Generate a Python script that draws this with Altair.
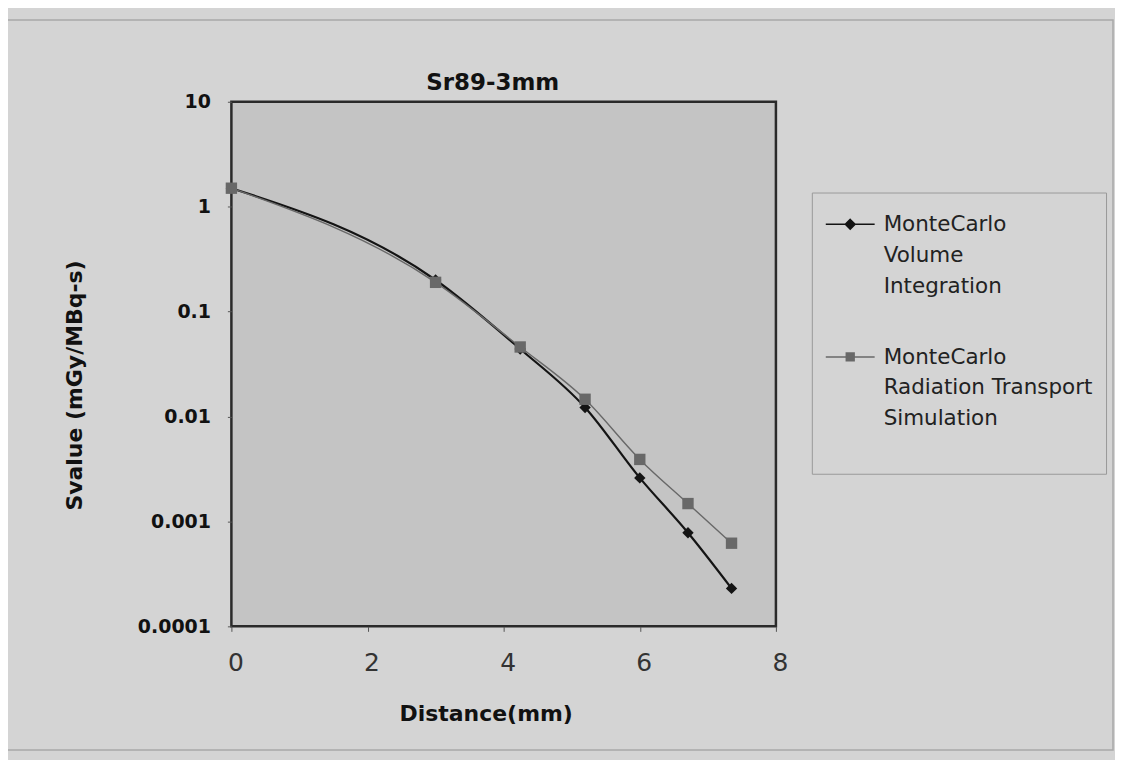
import altair as alt
import pandas as pd

# ---- data ----
distance = [0, 3, 4.243, 5.196, 6, 6.708, 7.348]
vol_integration = [1.5, 0.2, 0.044, 0.0122, 0.0026, 0.00078, 0.00023]
rad_transport = [1.5, 0.19, 0.046, 0.0146, 0.0039, 0.00148, 0.00062]
series = ["MonteCarlo Volume Integration", "MonteCarlo Radiation Transport Simulation"]
x_ticks = [0, 2, 4, 6, 8]
y_ticks = [0.0001, 0.001, 0.01, 0.1, 1, 10]

df = pd.DataFrame({
    "Distance": distance + distance,
    "Svalue": vol_integration + rad_transport,
    "Series": [series[0]] * len(distance) + [series[1]] * len(distance),
})

colors = ["#141414", "#686868"]
BG = "#d4d4d4"
PLOT_BG = "#c4c4c4"
FONT = "DejaVu Sans"

color_scale = alt.Scale(domain=series, range=colors)
x_enc = alt.X(
    "Distance:Q",
    scale=alt.Scale(domain=[0, 8], nice=False, zero=False),
    axis=alt.Axis(
        values=x_ticks, title="Distance(mm)", grid=False, domain=False, labelFlush=False,
        labelFont=FONT, labelFontSize=25, labelColor="#333333", labelOffset=4,
        labelPadding=19, tickSize=5, tickColor="#555555",
        titleFont=FONT, titleFontSize=22, titleFontWeight="bold", titleColor="#111111",
        titleX=255, titleY=87, titleAlign="center", titleBaseline="middle",
    ),
)
y_enc = alt.Y(
    "Svalue:Q",
    scale=alt.Scale(type="log", domain=[0.0001, 10], nice=False),
    axis=alt.Axis(
        values=y_ticks, format="~g", title="Svalue (mGy/MBq-s)", grid=False, domain=False,
        labelFlush=False,
        labelFont=FONT, labelFontSize=19, labelFontWeight="bold", labelColor="#111111",
        labelPadding=17, tickSize=4, tickColor="#555555",
        titleFont=FONT, titleFontSize=22, titleFontWeight="bold", titleColor="#111111",
        titleX=-157, titleY=284, titleAngle=270, titleAlign="center", titleBaseline="middle",
    ),
)

base = alt.Chart(df)
filt_a = alt.datum.Series == series[0]
filt_b = alt.datum.Series == series[1]
col = alt.Color("Series:N", scale=color_scale, legend=None)

line_a = base.transform_filter(filt_a).mark_line(interpolate="monotone", strokeWidth=2.2).encode(
    x=x_enc, y=y_enc, color=col)
pts_a = base.transform_filter(filt_a).mark_point(shape="diamond", filled=True, size=130, opacity=1).encode(
    x=x_enc, y=y_enc, color=col)
line_b = base.transform_filter(filt_b).mark_line(interpolate="monotone", strokeWidth=1.4).encode(
    x=x_enc, y=y_enc, color=col)
pts_b = base.transform_filter(filt_b).mark_point(shape="square", filled=True, size=130, opacity=1).encode(
    x=x_enc, y=y_enc, color=col)

# legend glyphs: line with the marker in its middle
path_a = "M-1,-0.27H1M0,-0.47L0.2,-0.27L0,-0.07L-0.2,-0.27Z"
path_b = "M-1,-0.27H1M-0.16,-0.43H0.16V-0.11H-0.16Z"
label_expr = ("datum.label == '" + series[0] + "' ? ['MonteCarlo', 'Volume', 'Integration']"
              " : ['MonteCarlo', 'Radiation Transport', 'Simulation', '']")
leg = alt.Legend(
    title=None, orient="none", legendX=582, legendY=91, direction="vertical",
    labelExpr=label_expr, labelFont=FONT, labelFontSize=21.5, labelColor="#222222",
    labelLimit=400, labelOffset=8, labelBaseline="alphabetic",
    symbolSize=2401, symbolStrokeWidth=1.5, symbolOpacity=1,
    padding=13, rowPadding=41, strokeColor="#9a9a9a", fillColor=BG, cornerRadius=0,
)
# invisible (zero-size) carrier of the legend, drawn beneath everything
legend_layer = base.mark_point(filled=True, size=0).encode(
    x=x_enc, y=y_enc,
    fill=alt.Fill("Series:N", scale=alt.Scale(domain=series, range=colors), legend=leg),
    stroke=alt.Stroke("Series:N", scale=alt.Scale(domain=series, range=colors), legend=leg),
    shape=alt.Shape("Series:N", scale=alt.Scale(domain=series, range=[path_a, path_b]), legend=leg),
)

frame = alt.Chart(alt.Data(values=[{"k": 1}])).mark_rect(
    fill=None, stroke="#a8a8a8", strokeWidth=1.5).encode(
    x=alt.value(-225), x2=alt.value(884), y=alt.value(-82), y2=alt.value(650))

chart = alt.layer(frame, legend_layer, line_a, pts_a, line_b, pts_b).properties(
    width=546, height=526,
    title=alt.TitleParams("Sr89-3mm", font=FONT, fontSize=23, fontWeight="bold", color="#111111",
                          anchor="middle", dx=-11, dy=105, offset=11, baseline="alphabetic",
                          frame="group"),
    autosize=alt.AutoSizeParams(type="none"),
    padding={"left": 224, "top": 93, "right": 340, "bottom": 133},
    background=BG,
).configure(
    style={"guide-label": {"lineHeight": 31}},
).configure_view(
    fill=PLOT_BG, stroke="#2a2a2a", strokeWidth=2.5,
)

chart.save("out.html", embed_options={"renderer": "svg", "actions": False})
